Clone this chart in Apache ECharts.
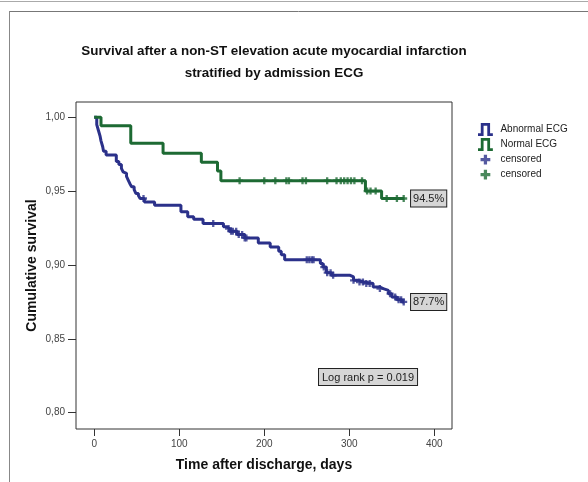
<!DOCTYPE html>
<html>
<head>
<meta charset="utf-8">
<script src="https://cdn.jsdelivr.net/npm/echarts@6/dist/echarts.min.js"></script>
<style>
  html, body { margin: 0; padding: 0; background: #fff; }
  #main { width: 588px; height: 482px; }
</style>
</head>
<body>
<div id="main"></div>
<script>
// Kaplan-Meier steps: event times (days) and survival after each
var abnTimes = [0, 3, 5, 7, 8, 10, 11, 14, 26, 29, 32, 34, 36, 38, 40, 42, 44, 47, 49, 52, 54, 59, 71,
    102, 110, 117, 128, 152, 156, 159, 168, 177, 193, 207, 217, 220, 224, 266, 269, 273, 279,
    301, 305, 311, 317, 328, 336, 340, 346, 350, 356, 362, 365];
var abnSurv = [1.0, 0.995, 0.991, 0.987, 0.984, 0.980, 0.977, 0.9744, 0.970, 0.968, 0.9654, 0.963, 0.962, 0.960,
    0.9575, 0.955, 0.953, 0.951, 0.9484, 0.947, 0.945, 0.9427, 0.9405,
    0.936, 0.9326, 0.931, 0.9281, 0.9258, 0.9247, 0.9228, 0.9206, 0.9183, 0.9149, 0.9122, 0.9093, 0.907, 0.9035,
    0.901, 0.8986, 0.8948, 0.893,
    0.8919, 0.8896, 0.8885, 0.8874, 0.8851, 0.884, 0.8828, 0.8806, 0.8783, 0.8765, 0.875, 0.875];
var abnCensored = [58, 140, 158, 161, 163, 167, 170, 174, 177, 179, 250, 253, 256, 258, 270, 274, 278, 281,
    305, 312, 316, 320, 324, 336, 348, 354, 358, 361, 364];

var norTimes = [0, 8, 43, 81, 126, 145, 149, 319, 338, 365];
var norSurv = [1.0, 0.9943, 0.9824, 0.9756, 0.9695, 0.9636, 0.957, 0.950, 0.945, 0.945];
var norCensored = [171, 200, 213, 226, 229, 245, 249, 274, 285, 290, 294, 298, 302, 306, 315,
    321, 325, 331, 344, 356, 364];

var xTicks = [0, 100, 200, 300, 400];
var yTicks = [0.80, 0.85, 0.90, 0.95, 1.00];

var abnLabel = '87.7%';
var norLabel = '94.5%';
var logRankText = 'Log rank p = 0.019';

var blue = '#2b318a';
var green = '#1d6a33';
var font = 'Arial, "Liberation Sans", sans-serif';

var stepIcon = 'path://M0,11 L3,11 L3,0 L13,0 L13,11 L16,11 L16,14 L10,14 L10,3 L6,3 L6,14 L0,14 Z';
var plusIcon = 'path://M-2,-2 M4,0 L8,0 L8,4 L12,4 L12,8 L8,8 L8,12 L4,12 L4,8 L0,8 L0,4 L4,4 Z M14,14';
var plusMark = 'path://M4,0 L8,0 L8,4 L12,4 L12,8 L8,8 L8,12 L4,12 L4,8 L0,8 L0,4 L4,4 Z';

function survAt(times, surv, t) {
    var v = surv[0];
    for (var i = 0; i < times.length; i++) {
        if (times[i] <= t) v = surv[i];
    }
    return v;
}

function pairs(times, surv) {
    return times.map(function(t, i) { return [t, surv[i]]; });
}

function censorPts(list, times, surv) {
    return list.map(function(t) { return [t, survAt(times, surv, t)]; });
}

function endLabel(text, times, surv) {
    var n = times.length - 1;
    return {
        symbol: 'rect',
        symbolSize: 1,
        silent: true,
        itemStyle: { color: 'rgba(0,0,0,0)' },
        data: [{ coord: [times[n], surv[n]], value: text }],
        label: {
            show: true,
            position: 'right',
            distance: 6,
            formatter: text,
            fontFamily: font,
            fontSize: 11,
            color: '#222',
            backgroundColor: '#d6d6d6',
            borderColor: '#222',
            borderWidth: 1,
            padding: [3, 2, 2, 2]
        }
    };
}

var chart = echarts.init(document.getElementById('main'));

var option = {
    animation: false,
    backgroundColor: '#fff',
    title: {
        text: 'Survival after a non-ST elevation acute myocardial infarction\nstratified by admission ECG',
        left: 274,
        top: 40,
        padding: 0,
        textAlign: 'center',
        textStyle: {
            fontFamily: font,
            fontSize: 13.4,
            fontWeight: 'bold',
            color: '#111',
            lineHeight: 22
        }
    },
    legend: {
        orient: 'vertical',
        left: 478,
        top: 123,
        padding: 0,
        itemWidth: 16,
        itemHeight: 13,
        itemGap: 2,
        itemStyle: { borderWidth: 0 },
        selectedMode: false,
        textStyle: { fontFamily: font, fontSize: 10, color: '#222', padding: [0, 0, 0, 2] },
        data: [
            { name: 'Abnormal ECG', icon: stepIcon },
            { name: 'Normal ECG', icon: stepIcon },
            { name: 'censored', icon: plusIcon },
            { name: 'censored ', icon: plusIcon }
        ]
    },
    grid: {
        left: 76,
        top: 102,
        right: 136,
        bottom: 53,
        show: true,
        borderColor: '#333',
        borderWidth: 1,
        backgroundColor: '#fff'
    },
    xAxis: {
        type: 'value',
        min: -21.4,
        max: 420.8,
        name: 'Time after discharge, days',
        nameLocation: 'middle',
        nameGap: 29,
        nameMoveOverlap: false,
        nameTextStyle: { fontFamily: font, fontSize: 14, fontWeight: 'bold', color: '#111' },
        axisLine: { show: false, onZero: false },
        splitLine: { show: false },
        axisTick: { show: true, length: 7, lineStyle: { color: '#333' }, customValues: xTicks },
        axisLabel: { fontFamily: font, fontSize: 10, color: '#444', margin: 10, customValues: xTicks }
    },
    yAxis: {
        type: 'value',
        min: 0.789,
        max: 1.0103,
        name: 'Cumulative survival',
        nameLocation: 'middle',
        nameGap: 37,
        nameMoveOverlap: false,
        nameTextStyle: { fontFamily: font, fontSize: 14, fontWeight: 'bold', color: '#111' },
        axisLine: { show: false, onZero: false },
        splitLine: { show: false },
        axisTick: { show: true, length: 8, lineStyle: { color: '#333' }, customValues: yTicks },
        axisLabel: {
            fontFamily: font, fontSize: 10, color: '#444', margin: 11,
            customValues: yTicks,
            formatter: function(v) { return v.toFixed(2).replace('.', ','); }
        }
    },
    series: [
        {
            name: 'Abnormal ECG',
            type: 'line',
            step: 'end',
            symbol: 'none',
            color: blue,
            lineStyle: { width: 3, color: blue },
            data: pairs(abnTimes, abnSurv),
            markPoint: endLabel(abnLabel, abnTimes, abnSurv),
            z: 3
        },
        {
            name: 'Normal ECG',
            type: 'line',
            step: 'end',
            symbol: 'none',
            color: green,
            lineStyle: { width: 3, color: green },
            data: pairs(norTimes, norSurv),
            markPoint: endLabel(norLabel, norTimes, norSurv),
            z: 3
        },
        {
            name: 'censored',
            type: 'scatter',
            symbol: plusMark,
            symbolSize: 7,
            color: blue,
            data: censorPts(abnCensored, abnTimes, abnSurv),
            z: 4
        },
        {
            name: 'censored ',
            type: 'scatter',
            symbol: plusMark,
            symbolSize: 7,
            color: green,
            data: censorPts(norCensored, norTimes, norSurv),
            z: 4
        }
    ],
    graphic: [
        // outer frame of the exported figure
        { type: 'line', shape: { x1: 0, y1: 1.5, x2: 588, y2: 1.5 }, style: { stroke: '#aaa', lineWidth: 1 } },
        { type: 'line', shape: { x1: 9, y1: 11.5, x2: 588, y2: 11.5 }, style: { stroke: '#777', lineWidth: 1 } },
        { type: 'line', shape: { x1: 9.5, y1: 11, x2: 9.5, y2: 482 }, style: { stroke: '#888', lineWidth: 1 } },
        {
            type: 'text',
            left: 318,
            top: 368,
            z: 10,
            style: {
                text: logRankText,
                font: '11px ' + font,
                fill: '#222',
                backgroundColor: '#d6d6d6',
                borderColor: '#222',
                borderWidth: 1,
                padding: [3, 3, 2, 3]
            }
        }
    ]
};

chart.setOption(option);
</script>
</body>
</html>
